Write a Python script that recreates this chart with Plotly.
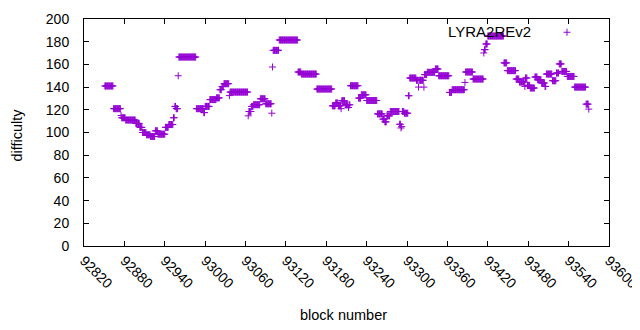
import plotly.graph_objects as go

# Difficulty runs: first block, last block, difficulty
run_first = [92851, 92864, 92875, 92876, 92882, 92897, 92903, 92907, 92913, 92919,
             92926, 92930, 92941, 92946, 92953, 92955, 92957, 92960, 92961, 92987,
             92998, 93000, 93007, 93017, 93022, 93025, 93028, 93036, 93037, 93064,
             93065, 93069, 93072, 93082, 93090, 93099, 93100, 93101, 93110, 93138,
             93143, 93166, 93189, 93194, 93198, 93202, 93203, 93208, 93213, 93214,
             93216, 93228, 93232, 93240, 93256, 93264, 93267, 93270, 93275, 93289,
             93291, 93292, 93293, 93296, 93302, 93304, 93314, 93317, 93318, 93325,
             93326, 93330, 93342, 93347, 93363, 93367, 93386, 93387, 93398, 93414,
             93415, 93417, 93420, 93444, 93449, 93462, 93467, 93475, 93476, 93479,
             93483, 93490, 93494, 93500, 93505, 93507, 93516, 93522, 93526, 93530,
             93538, 93549, 93566, 93570]
run_last = [92863, 92874, 92875, 92881, 92896, 92902, 92906, 92912, 92918, 92925,
            92929, 92940, 92945, 92952, 92954, 92956, 92959, 92960, 92986, 92997,
            92999, 93006, 93016, 93021, 93024, 93027, 93035, 93036, 93063, 93064,
            93068, 93071, 93081, 93089, 93098, 93099, 93100, 93109, 93137, 93142,
            93165, 93188, 93193, 93197, 93201, 93202, 93207, 93212, 93213, 93215,
            93227, 93231, 93239, 93255, 93263, 93266, 93269, 93274, 93288, 93290,
            93291, 93292, 93295, 93301, 93303, 93313, 93316, 93317, 93324, 93325,
            93329, 93341, 93346, 93362, 93366, 93385, 93386, 93397, 93413, 93414,
            93416, 93419, 93443, 93448, 93461, 93466, 93474, 93475, 93478, 93482,
            93489, 93493, 93499, 93504, 93506, 93515, 93521, 93525, 93529, 93537,
            93548, 93565, 93569, 93570]
run_difficulty = [141, 121, 115, 113, 111, 108, 104.5, 100, 98, 96.5,
                  101.5, 98.5, 104.5, 107, 113, 123, 121, 150, 166.5, 121,
                  117.5, 123, 129, 130.5, 137.7, 140.5, 143, 132.5, 135.6, 114.7,
                  118.5, 123, 124.5, 129.7, 125.3, 117, 157.7, 172.4, 181.5, 153.3,
                  151.5, 138.3, 123.5, 126, 123.5, 121, 128, 124.4, 122, 124.4,
                  141.2, 130.3, 133.2, 128.2, 116.4, 111.8, 109.4, 114.7, 118.5, 107.3,
                  104, 105.2, 118.5, 117, 132.4, 148, 146, 140, 146, 140,
                  151, 153, 156, 150, 135.3, 137.7, 144.1, 153.3, 147.1, 170.1,
                  173, 178, 185, 161.3, 154.5, 147.1, 144.5, 140.6, 148, 141.5,
                  139.2, 148.9, 146.5, 143.6, 140.6, 151.5, 145.6, 152.4, 160.4, 153.8,
                  149.4, 140, 125, 120.6]

x_ticks = list(range(92820, 93601, 60))
y_ticks = list(range(0, 201, 20))
series_name = "LYRA2REv2"

blocks, diffs = [], []
for a, b, d in zip(run_first, run_last, run_difficulty):
    for blk in range(a, b + 1):
        blocks.append(blk)
        diffs.append(d)

COLOR = "#9400D3"
FONT = "Liberation Sans, Arial, sans-serif"

fig = go.Figure()
fig.add_trace(go.Scatter(
    x=blocks, y=diffs, mode="markers", name=series_name, showlegend=False,
    cliponaxis=False,
    marker=dict(symbol="cross-thin", size=5, line=dict(width=1, color=COLOR), color=COLOR),
))

axis_common = dict(
    showline=True, linecolor="black", linewidth=1, mirror="ticks",
    ticks="inside", ticklen=5, tickcolor="black", tickwidth=1,
    showgrid=False, zeroline=False, automargin=False,
    tickfont=dict(family=FONT, size=14, color="black"),
)

# the page body adds an 8px margin all round, so the figure is sized to fit inside it
fig.update_layout(
    width=624, height=314,
    margin=dict(l=76, r=23, t=11, b=76),
    paper_bgcolor="white", plot_bgcolor="white",
    xaxis=dict(range=[92820, 93600], tickvals=x_ticks, ticktext=[str(v) for v in x_ticks],
               tickangle=45, ticklabeloverflow="allow", **axis_common),
    yaxis=dict(range=[0, 200], tickvals=y_ticks, ticklabelstandoff=11, **axis_common),
    annotations=[
        dict(text="difficulty", xref="paper", yref="paper", x=-0.128, y=0.49,
             textangle=-90, showarrow=False, xanchor="center", yanchor="middle",
             font=dict(family=FONT, size=14.5, color="black")),
        dict(text="block number", xref="paper", yref="paper", x=0.4947, y=-0.306,
             showarrow=False, xanchor="center", yanchor="middle",
             font=dict(family=FONT, size=14.5, color="black")),
        dict(text=series_name, xref="paper", yref="paper", x=0.8552, y=0.946,
             showarrow=False, xanchor="right", yanchor="middle",
             font=dict(family=FONT, size=15, color="black")),
    ],
    shapes=[
        dict(type="line", xref="paper", yref="paper", x0=0.92 - 0.00667, x1=0.92 + 0.00667,
             y0=0.9416, y1=0.9416, line=dict(color=COLOR, width=1)),
        dict(type="line", xref="paper", yref="paper", x0=0.92, x1=0.92,
             y0=0.9416 - 0.0155, y1=0.9416 + 0.0155, line=dict(color=COLOR, width=1)),
    ],
)

fig.write_html("out.html")
